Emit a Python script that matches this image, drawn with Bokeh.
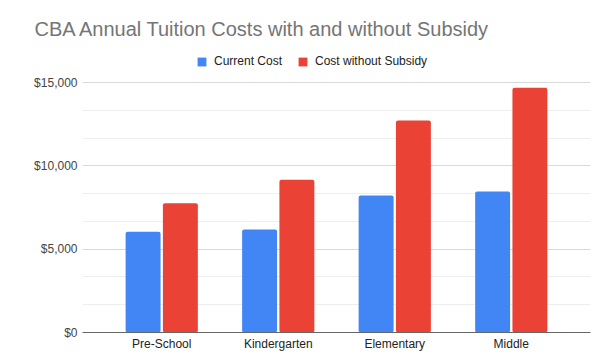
from bokeh.plotting import figure
from bokeh.models import (ColumnDataSource, FactorRange, FixedTicker, NumeralTickFormatter,
                          Legend, LegendItem, Range1d)
from bokeh.transform import dodge
from bokeh.embed import file_html
from bokeh.resources import INLINE

categories = ["Pre-School", "Kindergarten", "Elementary", "Middle"]
current_cost = [6050, 6180, 8220, 8460]
cost_without_subsidy = [7760, 9160, 12720, 14680]
y_ticks = [0, 5000, 10000, 15000]
y_minor = [1666.67, 3333.33, 6666.67, 8333.33, 11666.67, 13333.33]

FONT = "Liberation Sans"

# layout (pixels): frame spans from TOP to BOTTOM; the $15,000 gridline sits at GRID_TOP
W, H = 600, 362
TOP, BOTTOM, GRID_TOP = 53, 332, 82
y_max = 15000
y_end = y_max * (BOTTOM - TOP) / (BOTTOM - GRID_TOP)

src = ColumnDataSource(dict(cat=categories, cur=current_cost, wo=cost_without_subsidy))

p = figure(width=W, height=H, output_backend="svg", toolbar_location=None,
           x_range=FactorRange(factors=categories, range_padding=0.09),
           y_range=Range1d(0, y_end),
           min_border_left=82, min_border_right=10, min_border_top=TOP,
           min_border_bottom=H - BOTTOM)
p.outline_line_color = None
p.background_fill_color = "white"
p.border_fill_color = "white"

r1 = p.vbar(x=dodge("cat", -0.16, range=p.x_range), top="cur", width=0.30, source=src,
            fill_color="#4285F4", line_color=None, border_radius=2)
r2 = p.vbar(x=dodge("cat", 0.16, range=p.x_range), top="wo", width=0.30, source=src,
            fill_color="#EA4335", line_color=None, border_radius=2)

# y axis
p.yaxis.ticker = FixedTicker(ticks=y_ticks, minor_ticks=y_minor)
p.yaxis.formatter = NumeralTickFormatter(format="$0,0")
p.yaxis.axis_line_color = None
p.yaxis.major_tick_line_color = None
p.yaxis.minor_tick_line_color = None
p.yaxis.major_tick_out = 0
p.yaxis.major_tick_in = 0
p.yaxis.minor_tick_out = 0
p.yaxis.major_label_standoff = 5
p.yaxis.major_label_text_font = FONT
p.yaxis.major_label_text_font_size = "12px"
p.yaxis.major_label_text_color = "#444444"

# x axis
p.xaxis.axis_line_color = "#666666"
p.xaxis.axis_line_width = 1
p.xaxis.major_tick_line_color = None
p.xaxis.minor_tick_line_color = None
p.xaxis.major_tick_out = 0
p.xaxis.major_tick_in = 0
p.xaxis.major_label_standoff = 4
p.xaxis.major_label_text_font = FONT
p.xaxis.major_label_text_font_size = "12px"
p.xaxis.major_label_text_color = "#222222"

p.xgrid.grid_line_color = None
p.ygrid.grid_line_color = "#d9d9d9"
p.ygrid.minor_grid_line_color = "#eeeeee"

legend = Legend(items=[LegendItem(label="Current Cost", renderers=[r1]),
                       LegendItem(label="Cost without Subsidy", renderers=[r2])],
                location=(114, BOTTOM - 54 - 14), orientation="horizontal",
                glyph_width=11, glyph_height=11, label_height=11,
                label_standoff=7, spacing=15, padding=0, margin=0,
                border_line_color=None, background_fill_alpha=0,
                label_text_font=FONT, label_text_font_size="12px",
                label_text_color="#222222")
p.add_layout(legend, "center")

# title
p.title.text = "CBA Annual Tuition Costs with and without Subsidy"
p.title.align = "left"
p.title.offset = -48
p.title.vertical_align = "bottom"
p.title.standoff = 28
p.title.text_font = FONT
p.title.text_font_size = "20px"
p.title.text_font_style = "normal"
p.title.text_color = "#757575"

open("out.html", "w").write(file_html(p, INLINE))
